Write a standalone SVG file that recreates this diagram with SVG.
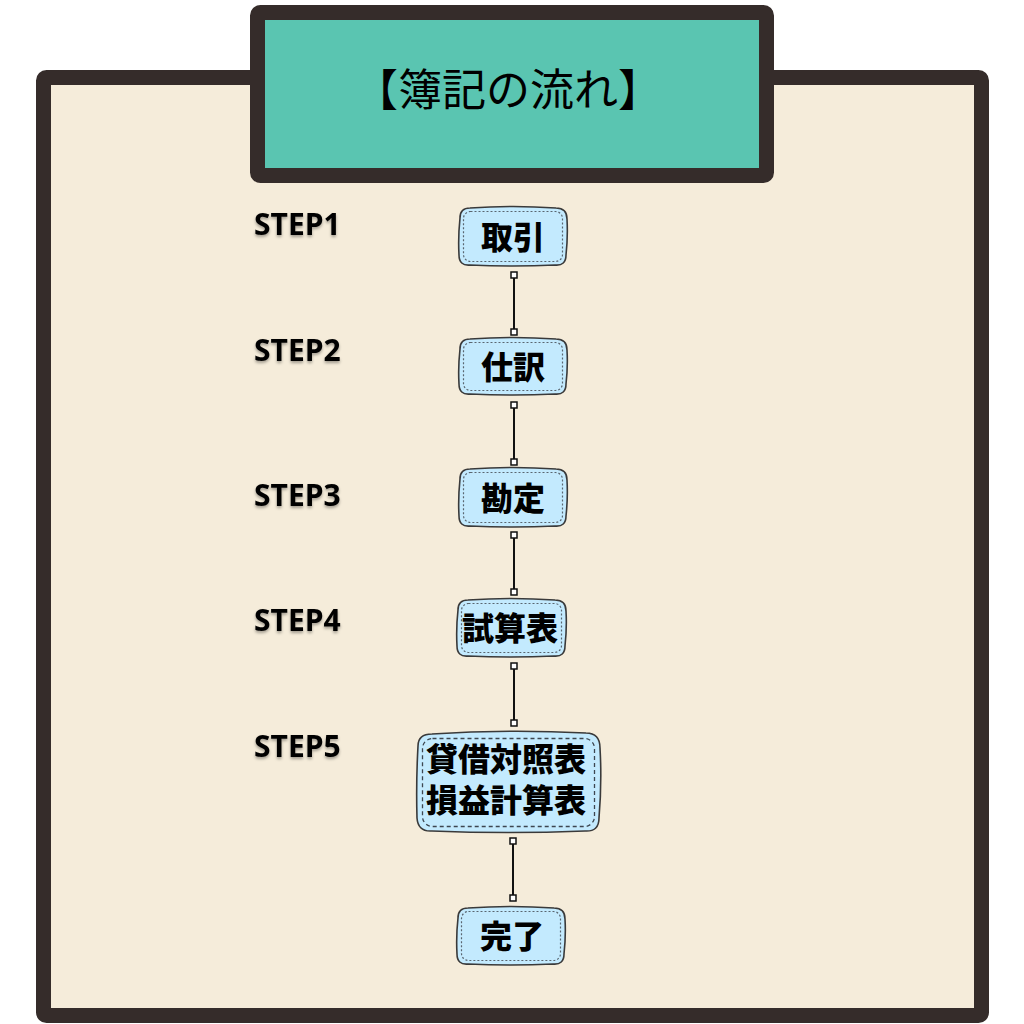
<svg xmlns="http://www.w3.org/2000/svg" width="1024" height="1024" viewBox="0 0 1024 1024">
  <defs>
    <style>
      .frame { fill: #f5ecda; stroke: #352c2a; stroke-width: 15; stroke-linejoin: round; }
      .title-box { fill: #5ac5b1; stroke: #352c2a; stroke-width: 15; stroke-linejoin: round; }
      .title { font-family: "Noto Sans CJK JP", "Noto Sans", sans-serif; font-size: 44px; font-weight: 400; fill: #000; }
      .step { font-family: "Open Sans", "Liberation Sans", sans-serif; font-size: 30px; font-weight: 700; fill: #000; }
      .node-shape { fill: #c3eafe; stroke: #3a3a3a; stroke-width: 1.6; stroke-linejoin: round; }
      .node-inner { fill: none; stroke: #5a6670; stroke-width: 1.2; stroke-dasharray: 2 2; }
      .node-inner-long { fill: none; stroke: #3d4650; stroke-width: 1.3; stroke-dasharray: 4 3; }
      .label { font-family: "Noto Sans CJK JP", "Noto Sans", sans-serif; font-size: 32px; font-weight: 900; fill: #000; text-anchor: middle; }
      .conn { stroke: #111; stroke-width: 2; fill: none; marker-start: url(#sq); marker-end: url(#sq); }
    </style>
    <marker id="sq" viewBox="0 0 8 8" refX="4" refY="4" markerWidth="8" markerHeight="8" markerUnits="userSpaceOnUse" orient="auto">
      <rect x="1" y="1" width="6" height="6" fill="#fff" stroke="#111" stroke-width="1.5"/>
    </marker>
    <filter id="shadow" x="-10%" y="-30%" width="120%" height="160%">
      <feDropShadow dx="0" dy="2" stdDeviation="1.5" flood-color="#000" flood-opacity="0.35"/>
    </filter>
  </defs>

  <rect width="1024" height="1024" fill="#ffffff"/>

  <g id="frame">
    <rect class="frame" x="43.5" y="77.5" width="938" height="938" rx="3"/>
  </g>

  <g id="title">
    <rect class="title-box" x="257.5" y="12.5" width="509" height="163" rx="3"/>
    <text class="title" x="508" y="106" text-anchor="middle">【簿記の流れ】</text>
  </g>

  <g id="steps" filter="url(#shadow)">
    <text class="step" x="254" y="235">STEP1</text>
    <text class="step" x="254" y="361">STEP2</text>
    <text class="step" x="254" y="506">STEP3</text>
    <text class="step" x="254" y="631">STEP4</text>
    <text class="step" x="254" y="757">STEP5</text>
  </g>

  <g id="connectors">
    <line class="conn" x1="514" y1="275" x2="514" y2="332"/>
    <line class="conn" x1="514" y1="405" x2="514" y2="462"/>
    <line class="conn" x1="514" y1="535" x2="514" y2="592"/>
    <line class="conn" x1="514" y1="666" x2="514" y2="723"/>
    <line class="conn" x1="513" y1="841" x2="513" y2="898"/>
  </g>

  <g id="node-torihiki">
    <path class="node-shape" d="M470,208 Q513,205 556,208 Q567,208 567,219 Q568,237 566,255 Q566,266 555,265 Q513,267 470,265 Q459,266 459,255 Q458,237 460,218 Q460,208 470,208 Z"/>
    <rect class="node-inner" x="463.5" y="211.5" width="99" height="50" rx="7"/>
    <text class="label" x="513" y="249">取引</text>
  </g>

  <g id="node-shiwake">
    <path class="node-shape" d="M470,339 Q513,336 556,339 Q567,339 567,350 Q568,367 566,384 Q566,395 555,394 Q513,396 470,394 Q459,395 459,384 Q458,367 460,349 Q460,339 470,339 Z"/>
    <rect class="node-inner" x="463.5" y="342.5" width="99" height="48" rx="7"/>
    <text class="label" x="513" y="379">仕訳</text>
  </g>

  <g id="node-kanjo">
    <path class="node-shape" d="M470,469 Q513,466 556,469 Q567,469 567,480 Q568,498 566,516 Q566,527 555,526 Q513,528 470,526 Q459,527 459,516 Q458,498 460,479 Q460,469 470,469 Z"/>
    <rect class="node-inner" x="463.5" y="472.5" width="99" height="50" rx="7"/>
    <text class="label" x="513" y="510">勘定</text>
  </g>

  <g id="node-shisanhyo">
    <path class="node-shape" d="M468,600 Q511,597 555,600 Q566,600 566,611 Q567,628 565,646 Q565,657 554,656 Q511,658 468,656 Q457,657 457,646 Q456,628 458,610 Q458,600 468,600 Z"/>
    <rect class="node-inner" x="461.5" y="603.5" width="100" height="49" rx="7"/>
    <text class="label" x="510" y="640">試算表</text>
  </g>

  <g id="node-zaimu">
    <path class="node-shape" d="M432,734 Q508,729 586,733 Q600,733 600,748 Q602,782 599,818 Q599,832 585,831 Q508,834 432,831 Q418,832 417,818 Q416,782 418,746 Q418,734 432,734 Z"/>
    <rect class="node-inner-long" x="422.5" y="738.5" width="172" height="88" rx="10"/>
    <text class="label"><tspan x="506" y="771">貸借対照表</tspan><tspan x="506" y="812">損益計算表</tspan></text>
  </g>

  <g id="node-kanryo">
    <path class="node-shape" d="M468,908 Q511,905 554,908 Q565,908 565,919 Q566,936 564,954 Q564,965 553,964 Q511,966 468,964 Q457,965 457,954 Q456,936 458,918 Q458,908 468,908 Z"/>
    <rect class="node-inner" x="461.5" y="911.5" width="99" height="49" rx="7"/>
    <text class="label" x="512" y="948">完了</text>
  </g>
</svg>
